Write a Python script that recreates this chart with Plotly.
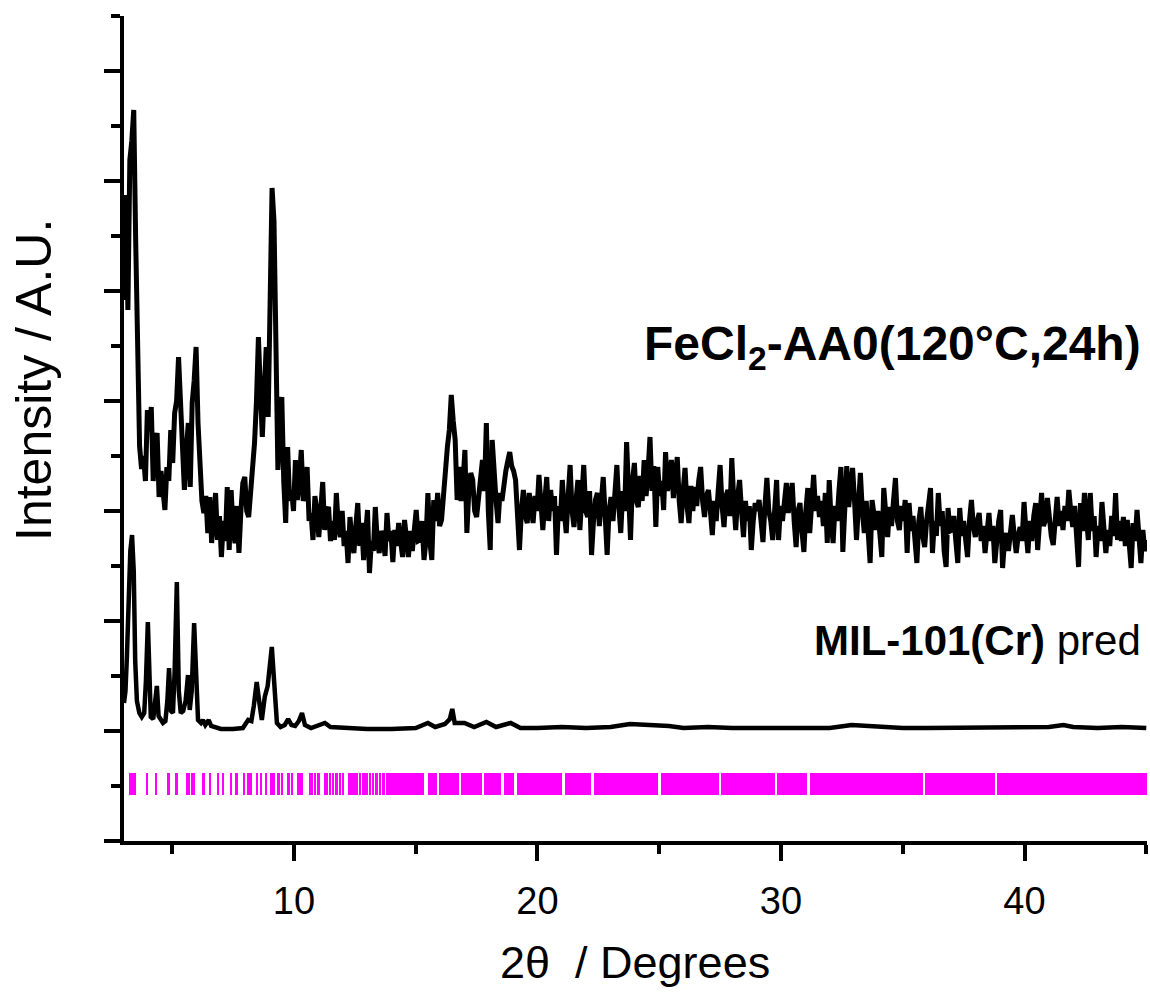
import plotly.graph_objects as go

# ---------------- data ----------------
# Experimental scan FeCl2-AA0(120°C,24h): constant-step 2θ scan, intensities in A.U.
# (offset included), one row = 2 degrees (25 steps)
FE_SCAN_START = 3.02
FE_SCAN_STEP = 0.08
fe_intensity = [
    541, 646, 531, 681, 700, 731, 600, 450, 395, 372, 385, 360, 431, 410, 434, 360, 396, 408, 344, 370, 350, 331, 374, 360, 411,   # 3.02
    378, 428, 440, 484, 440, 400, 351, 390, 418, 354, 438, 460, 494, 418, 364, 340, 328, 345, 308, 344, 298, 330, 348, 301, 325,   # 5.02
    284, 320, 300, 354, 291, 351, 310, 298, 335, 288, 330, 358, 364, 330, 324, 350, 371, 398, 440, 504, 451, 404, 450, 494, 424,   # 7.02
    520, 653, 620, 520, 371, 410, 444, 360, 318, 394, 340, 351, 330, 381, 341, 360, 391, 340, 348, 374, 320, 328, 301, 345, 331,   # 9.02
    304, 340, 359, 311, 330, 334, 300, 320, 301, 348, 315, 304, 330, 295, 310, 278, 324, 300, 288, 315, 338, 295, 318, 281, 305,   # 11.02
    331, 268, 300, 290, 334, 300, 288, 310, 304, 285, 328, 300, 310, 279, 311, 295, 318, 300, 284, 321, 295, 284, 310, 290, 311,   # 13.02
    331, 300, 301, 320, 281, 300, 348, 300, 281, 341, 320, 348, 315, 321, 350, 374, 394, 411, 446, 420, 401, 341, 374, 340, 358,   # 15.02
    391, 308, 350, 368, 361, 330, 324, 345, 358, 381, 350, 418, 330, 291, 401, 360, 340, 318, 348, 340, 358, 370, 380, 389, 375,   # 17.02
    370, 361, 330, 291, 330, 351, 325, 318, 348, 330, 318, 345, 330, 366, 335, 311, 340, 364, 320, 351, 330, 345, 286, 335, 320,   # 19.02
    361, 330, 308, 345, 376, 330, 314, 340, 361, 311, 350, 376, 330, 324, 350, 286, 320, 341, 348, 315, 340, 364, 325, 286, 330,   # 21.02
    344, 320, 360, 376, 335, 308, 350, 330, 399, 340, 301, 360, 378, 340, 334, 365, 340, 381, 345, 370, 404, 350, 375, 314, 374,   # 23.02
    345, 360, 331, 389, 350, 370, 381, 343, 365, 384, 340, 318, 350, 373, 335, 318, 355, 330, 354, 335, 360, 374, 340, 324, 345,   # 25.02
    351, 330, 306, 340, 320, 350, 376, 335, 314, 345, 351, 325, 383, 340, 311, 345, 361, 330, 304, 340, 320, 335, 291, 320, 338,   # 27.02
    330, 341, 320, 299, 335, 363, 330, 320, 301, 340, 361, 301, 335, 320, 340, 358, 328, 345, 358, 320, 294, 330, 338, 310, 289,   # 29.02
    330, 353, 308, 340, 366, 330, 345, 324, 340, 315, 348, 298, 361, 320, 298, 335, 320, 350, 374, 289, 340, 375, 334, 360, 373,   # 31.02
    340, 301, 335, 368, 330, 308, 340, 310, 278, 341, 320, 311, 330, 300, 284, 353, 320, 304, 334, 315, 340, 363, 320, 311, 335,   # 33.02
    320, 341, 288, 338, 310, 325, 300, 278, 320, 334, 305, 294, 320, 335, 353, 288, 320, 305, 348, 315, 330, 290, 274, 333, 310,   # 35.02
    311, 325, 300, 278, 333, 305, 320, 295, 284, 320, 341, 315, 304, 320, 328, 300, 315, 288, 310, 328, 300, 315, 278, 305, 320,   # 37.02
    331, 273, 300, 308, 290, 310, 326, 305, 288, 305, 314, 300, 339, 310, 288, 320, 300, 325, 338, 291, 315, 348, 315, 321, 343,   # 39.02
    320, 305, 296, 325, 344, 315, 330, 311, 335, 320, 351, 330, 314, 335, 300, 274, 338, 310, 348, 320, 301, 348, 310, 325, 284,   # 41.02
    315, 300, 339, 310, 288, 311, 295, 325, 305, 348, 301, 320, 300, 324, 295, 321, 290, 273, 318, 300, 331, 305, 278, 311, 290,   # 43.02
    301,                                                                                                                          # 45.02
]

# Predicted pattern MIL-101(Cr)
pred_two_theta = [
    3.02, 3.08, 3.14, 3.20, 3.28, 3.35, 3.42, 3.48, 3.55, 3.65, 3.75, 3.85, 3.92,
    4.00, 4.06, 4.12, 4.22, 4.30, 4.37, 4.44, 4.52, 4.62, 4.72, 4.80, 4.87, 4.95,
    5.03, 5.10, 5.19, 5.27, 5.35, 5.45, 5.55, 5.65, 5.72, 5.80, 5.90, 5.98, 6.06,
    6.18, 6.26, 6.36, 6.50, 6.60, 6.80, 7.00, 7.50, 7.90, 8.12, 8.25, 8.35, 8.47,
    8.58, 8.68, 8.80, 8.92, 9.09, 9.20, 9.30, 9.45, 9.62, 9.76, 9.90, 10.05, 10.20,
    10.33, 10.45, 10.70, 11.27, 11.50, 12.00, 13.00, 14.00, 15.00, 15.50, 15.80, 16.20, 16.40,
    16.50, 16.60, 17.00, 17.40, 17.90, 18.30, 18.90, 19.30, 20.00, 21.00, 22.00, 23.00, 23.80,
    24.40, 25.00, 25.40, 26.00, 27.00, 28.00, 29.00, 30.00, 31.00, 32.00, 32.90, 34.00, 35.00,
    36.00, 37.00, 38.00, 39.00, 40.00, 41.00, 41.60, 42.00, 43.00, 44.00, 45.00,
]
pred_intensity = [
    138, 150, 185, 235, 290, 306, 270, 180, 140, 128, 124, 128, 160,
    219, 160, 124, 122, 140, 155, 125, 121, 118, 120, 140, 173, 130,
    128, 170, 259, 150, 128, 130, 140, 166, 131, 150, 218, 150, 121,
    118, 121, 116, 121, 115, 113, 112, 112, 113, 121, 120, 135, 159,
    138, 121, 144, 155, 194, 150, 118, 114, 116, 122, 116, 115, 120,
    128, 116, 113, 118, 114, 113, 112, 112, 113, 118, 114, 117, 122,
    132, 118, 118, 114, 119, 114, 118, 113, 113, 114, 113, 114, 117,
    116, 116, 115, 113, 114, 113, 113, 113, 114, 113, 116, 114, 113,
    113, 113, 113, 113, 113, 114, 116, 114, 113, 114, 113,
]

# Reflection positions (2θ, deg) – isolated tick marks
reflection_ticks = [
    3.29, 3.36, 3.46, 3.97, 4.33, 4.84, 5.18, 5.63, 5.70, 5.83, 5.90, 6.28, 6.55,
    6.89, 7.09, 7.41, 7.64, 7.94, 8.13, 8.21, 8.47, 8.64, 8.84, 9.06, 9.16, 9.36,
    9.50, 9.77, 9.93, 10.16, 10.24, 10.33, 10.65, 10.72, 10.86, 11.00, 11.27, 11.34,
    11.48, 11.61, 11.75, 11.89, 12.02, 12.27, 12.33, 12.44, 12.57, 12.71, 12.85,
    12.98, 13.12, 13.25, 13.39, 13.53, 13.67,
]
# Ranges where reflections merge into a continuous band (start, end in deg)
band_start = [13.78, 15.50, 15.95, 16.86, 17.80, 18.62, 19.16, 21.13, 22.32,
              25.07, 27.53, 29.83, 31.19, 35.91, 38.87]
band_end = [15.34, 15.87, 16.77, 17.72, 18.50, 19.03, 21.00, 22.20, 24.95,
            27.45, 29.75, 31.07, 35.83, 38.79, 45.03]

x_major_ticks = [10, 20, 30, 40]
x_minor_ticks = [5, 15, 25, 35, 45]

assert len(fe_intensity) == 526
assert len(pred_two_theta) == len(pred_intensity)
fe_two_theta = [round(FE_SCAN_START + i * FE_SCAN_STEP, 2) for i in range(len(fe_intensity))]

# ---------------- styling ----------------
FONT = "Liberation Sans, Arial, Helvetica, sans-serif"
MAGENTA = "#FF00FF"
TICK_BASE = 46
TICK_HEIGHT = 22
Y_TOP = 825
Y_STEP = 55
AX_W = 3.5

fig = go.Figure()

fig.add_trace(go.Scatter(
    x=pred_two_theta, y=pred_intensity, mode="lines",
    line=dict(color="black", width=4.5), showlegend=False, hoverinfo="skip"))

fig.add_trace(go.Scatter(
    x=fe_two_theta, y=fe_intensity, mode="lines",
    line=dict(color="black", width=5), showlegend=False, hoverinfo="skip"))

# reflection tick marks
fig.add_trace(go.Bar(
    x=reflection_ticks, y=[TICK_HEIGHT] * len(reflection_ticks), base=TICK_BASE,
    width=0.1, marker=dict(color=MAGENTA, line=dict(width=0)),
    showlegend=False, hoverinfo="skip"))
band_center = [(a + b) / 2 for a, b in zip(band_start, band_end)]
band_width = [b - a for a, b in zip(band_start, band_end)]
fig.add_trace(go.Bar(
    x=band_center, y=[TICK_HEIGHT] * len(band_center), base=TICK_BASE,
    width=band_width, marker=dict(color=MAGENTA, line=dict(width=0)),
    showlegend=False, hoverinfo="skip"))

L, R, T, B = 124, 3, 16, 151
W, H = 1150, 992
pw, ph = W - L - R, H - T - B

def px_x(px):
    return (px - L) / pw

def px_y(py):
    return (H - B - py) / ph

fig.update_layout(
    width=W, height=H,
    margin=dict(l=L, r=R, t=T, b=B),
    paper_bgcolor="white", plot_bgcolor="white",
    barmode="overlay", bargap=0,
    font=dict(family=FONT, color="black"),
    xaxis=dict(
        range=[3.02, 45.03], showgrid=False, zeroline=False,
        showline=True, linecolor="black", linewidth=AX_W,
        ticks="outside", ticklen=16, tickwidth=AX_W, tickcolor="black",
        tickvals=x_major_ticks, tickfont=dict(size=38, family=FONT),
        ticklabelstandoff=8,
        minor=dict(tickvals=x_minor_ticks, ticks="outside", ticklen=9,
                   tickwidth=AX_W, tickcolor="black"),
    ),
    yaxis=dict(
        range=[0, Y_TOP], showgrid=False, zeroline=False,
        showline=True, linecolor="black", linewidth=AX_W,
        ticks="outside", ticklen=16, tickwidth=AX_W, tickcolor="black",
        tickvals=list(range(0, Y_TOP, 2 * Y_STEP)), showticklabels=False,
        minor=dict(tickvals=list(range(Y_STEP, Y_TOP + 1, 2 * Y_STEP)),
                   ticks="outside", ticklen=9, tickwidth=AX_W, tickcolor="black"),
    ),
    annotations=[
        dict(text="Intensity / A.U.", textangle=-90, xref="paper", yref="paper",
             x=px_x(34), y=px_y(380), xanchor="center", yanchor="middle",
             showarrow=False, font=dict(size=50, family=FONT)),
        dict(text="2\u03b8\u00a0 / Degrees", xref="paper", yref="paper",
             x=px_x(635), y=px_y(962), xanchor="center", yanchor="middle",
             showarrow=False, font=dict(size=45, family=FONT)),
        dict(text="<b>FeCl<sub>2</sub>-AA0(120°C,24h)</b>", xref="paper", yref="paper",
             x=px_x(1143), y=px_y(347), xanchor="right", yanchor="middle",
             showarrow=False, font=dict(size=48, family=FONT)),
        dict(text="<b>MIL-101(Cr)</b> pred", xref="paper", yref="paper",
             x=px_x(1143), y=px_y(640), xanchor="right", yanchor="middle",
             showarrow=False, font=dict(size=42, family=FONT)),
    ],
)

fig.write_html("out.html")
